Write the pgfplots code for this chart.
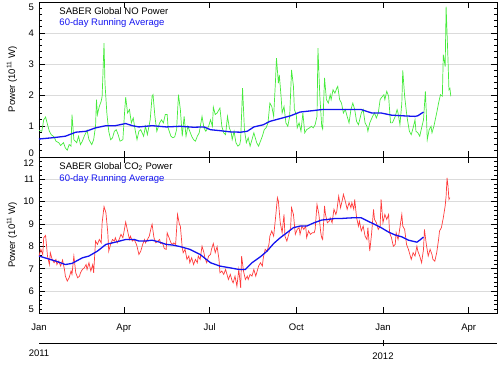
\documentclass[border=0pt]{standalone}
\usepackage{fontspec}
\setmainfont{Liberation Sans}
\usepackage{pgfplots}
\pgfplotsset{compat=1.18}
\definecolor{noGreen}{RGB}{70,235,60}
\definecolor{co2Red}{RGB}{255,60,60}
\definecolor{avgBlue}{RGB}{20,20,240}
\newcommand{\lblfont}{\fontsize{9.5}{11}\selectfont}
\pgfplotsset{
  panel/.style={
    width=458pt, scale only axis, xmin=0, xmax=486,
    xtick={0,90,181,273,365,456}, minor x tick num=5,
    minor y tick num=4,
    tick align=inside, major tick length=6pt, minor tick length=3pt,
    ymajorgrids, major grid style={black!14, line width=0.8pt},
    axis line style={line width=0.6pt}, tick style={black, line width=0.6pt},
    tick label style={font=\lblfont},
    yticklabel style={xshift=-1.5pt},
    ylabel={Power (10\textsuperscript{11} W)},
    every axis y label/.style={at={(axis description cs:-0.059,0.5)}, rotate=90, anchor=center, font=\lblfont},
  },
}
\begin{document}
\begin{tikzpicture}
\useasboundingbox (0,0) rectangle (500pt,364pt);
% ---------------- top panel ----------------
\begin{axis}[panel, at={(39pt,207pt)}, anchor=south west, height=155pt,
  ymin=0, ymax=5, ytick={0,1,2,3,4,5},
  yticklabels={\raisebox{4pt}[\height][\depth]{0},1,2,3,4,\raisebox{-5pt}[\height][\depth]{5}},
  xticklabels={}]
\addplot[noGreen, line width=0.7pt] coordinates {
(0,0.86) (3,0.83) (5,1.20) (7,1.29) (9,1.05) (11,0.83) (13,0.72) (16,0.65) (18,0.51) (21,0.46)
(23,0.37) (26,0.46) (28,0.29) (30,0.22) (32,0.40) (34,0.35) (35,1.37) (37,0.56) (40,0.46) (42,0.67)
(44,0.40) (46,0.51) (48,0.67) (51,0.86) (53,0.56) (56,0.40) (58,0.56) (60,0.99) (61,1.85) (62,1.37)
(64,1.63) (66,1.80) (67,1.96) (69,3.67) (70,2.38) (72,1.42) (74,0.83) (76,0.56) (78,0.62) (80,0.83)
(82,0.88) (84,0.72) (86,0.51) (89,0.56) (91,1.53) (92,1.93) (94,1.42) (96,1.53) (98,1.10) (100,1.26)
(102,0.88) (104,0.56) (106,0.83) (108,0.88) (111,0.67) (113,0.99) (115,0.72) (118,1.20) (120,1.96) (121,2.01)
(123,1.31) (125,0.83) (128,1.10) (130,1.20) (132,1.10) (134,1.37) (136,1.37) (137,0.94) (140,0.67) (142,0.62)
(144,0.65) (146,0.88) (148,2.01) (150,1.53) (152,0.67) (154,1.31) (156,0.67) (158,0.99) (160,0.83) (162,0.67)
(164,0.56) (166,0.51) (168,0.67) (170,0.78) (173,1.31) (175,0.94) (177,0.83) (180,0.99) (182,1.20) (184,0.99)
(185,1.61) (187,1.37) (189,1.42) (192,1.58) (194,0.99) (196,0.78) (198,0.72) (200,1.31) (202,0.94) (204,0.78)
(205,0.56) (207,0.83) (209,0.46) (211,0.35) (213,0.40) (214,0.56) (216,2.22) (218,0.88) (220,0.46) (222,0.62)
(224,0.35) (226,0.56) (228,0.78) (231,0.46) (233,0.35) (235,0.51) (237,0.67) (239,0.88) (241,0.94) (243,1.10)
(245,1.74) (247,1.63) (249,1.31) (251,2.49) (252,3.19) (254,2.38) (255,2.65) (257,1.90) (258,1.42) (260,1.63)
(262,1.10) (264,0.99) (266,1.31) (268,2.81) (270,2.28) (271,1.53) (273,1.37) (274,0.94) (276,1.10) (278,0.83)
(280,1.42) (282,0.78) (284,0.88) (287,0.94) (289,0.99) (291,0.94) (293,1.04) (295,1.31) (296,3.51) (298,1.96)
(300,0.99) (301,0.90) (303,2.55) (305,1.85) (307,1.74) (309,2.01) (310,1.85) (312,2.17) (314,2.06) (316,2.22)
(317,2.28) (319,1.85) (321,1.74) (323,1.42) (325,1.53) (327,1.31) (329,1.10) (331,1.53) (333,1.74) (335,1.53)
(337,1.15) (339,1.04) (342,1.42) (344,1.53) (346,1.10) (348,0.99) (349,0.83) (351,1.10) (354,1.31) (356,1.42)
(358,1.26) (360,1.42) (362,1.85) (363,1.90) (366,2.01) (367,1.85) (369,2.12) (371,1.96) (373,1.10) (375,1.10)
(378,1.31) (380,1.53) (381,1.42) (383,1.04) (385,1.74) (386,2.79) (388,1.96) (390,1.42) (391,1.20) (393,0.83)
(395,0.72) (397,0.94) (399,1.20) (400,0.83) (402,0.78) (404,0.67) (406,0.94) (408,1.20) (410,2.12) (411,1.42)
(412,0.56) (414,0.88) (416,0.99) (417,0.78) (419,0.99) (422,1.42) (424,1.74) (426,2.01) (428,1.96) (429,3.30)
(431,2.92) (432,4.85) (434,3.14) (435,2.17) (436,2.22) (437,1.96)
};
\addplot[avgBlue, line width=1.3pt] coordinates {
(0,0.58) (14,0.62) (28,0.67) (39,0.80) (50,0.83) (60,0.94) (71,1.01) (81,1.01) (92,1.08) (99,1.01)
(106,0.97) (120,1.01) (135,0.97) (150,0.99) (164,0.96) (175,0.97) (182,0.88) (192,0.85) (203,0.81) (214,0.80)
(221,0.83) (228,0.97) (238,1.04) (245,1.15) (256,1.24) (267,1.33) (277,1.45) (292,1.50) (300,1.53) (314,1.53)
(328,1.53) (342,1.53) (353,1.42) (363,1.42) (374,1.35) (385,1.33) (399,1.31) (402,1.33) (408,1.45)
};
\node[anchor=west, font=\lblfont, text=black] at (axis description cs:0.037,0.944) {SABER Global NO Power};
\node[anchor=west, font=\lblfont, text=avgBlue] at (axis description cs:0.037,0.867) {60-day Running Average};
\end{axis}
% ---------------- bottom panel ----------------
\begin{axis}[panel, at={(39pt,207pt)}, anchor=north west, height=156.5pt,
  ymin=5, ymax=12, ytick={5,6,7,8,9,10,11,12},
  yticklabels={\raisebox{4pt}[\height][\depth]{5},6,7,8,9,10,11,\raisebox{-6pt}[\height][\depth]{12}},
  xticklabels={Jan,Apr,Jul,Oct,Jan,Apr}, xticklabel style={yshift=-7pt}]
\addplot[co2Red, line width=0.7pt] coordinates {
(0,7.57) (2,7.87) (4,7.64) (5,8.39) (7,8.49) (9,7.57) (11,7.19) (12,7.72) (14,7.42) (16,7.27)
(18,7.42) (19,7.19) (21,7.34) (23,7.12) (25,7.39) (27,6.97) (28,6.67) (30,6.45) (32,6.60) (34,6.90)
(35,6.75) (37,7.57) (39,6.82) (41,6.60) (43,6.67) (44,6.82) (46,6.97) (48,7.04) (50,7.19) (51,6.97)
(53,7.27) (55,6.90) (57,7.19) (58,6.82) (60,8.24) (62,8.09) (64,8.31) (66,8.16) (67,9.06) (69,9.78)
(71,9.51) (73,8.61) (74,7.79) (76,8.09) (78,8.31) (80,8.24) (81,8.39) (83,8.16) (85,8.31) (87,8.54)
(89,8.39) (90,8.61) (92,9.09) (94,8.69) (96,8.31) (97,8.46) (99,8.24) (101,8.31) (103,8.13) (104,8.01)
(106,7.64) (108,7.79) (110,8.09) (112,8.31) (113,8.16) (115,8.31) (117,8.46) (119,8.84) (120,8.99) (122,8.39)
(124,8.16) (126,8.24) (128,8.31) (129,8.13) (131,8.16) (133,7.90) (135,7.87) (136,8.61) (138,8.39) (140,8.16)
(142,8.09) (143,8.16) (145,8.09) (147,9.43) (149,8.99) (150,8.91) (152,7.94) (153,7.72) (155,7.87) (157,7.42)
(159,7.57) (160,7.27) (162,7.49) (164,7.19) (166,7.42) (168,7.27) (169,7.57) (171,7.42) (173,8.01) (175,7.72)
(176,7.49) (178,7.27) (180,7.57) (182,7.64) (183,7.87) (185,8.13) (187,7.72) (189,7.99) (191,7.42) (192,6.82)
(194,6.90) (196,6.75) (198,6.97) (199,6.82) (201,6.52) (203,6.75) (205,6.45) (206,6.37) (208,6.67) (210,6.22)
(212,6.97) (214,6.15) (215,7.57) (217,6.90) (219,6.52) (221,6.67) (222,6.52) (224,6.75) (226,6.67) (228,6.97)
(230,6.67) (231,6.82) (233,7.12) (235,7.27) (237,7.12) (238,7.49) (240,7.87) (242,7.79) (244,8.09) (245,8.46)
(247,8.69) (249,8.46) (251,9.28) (253,10.18) (254,10.03) (256,9.06) (258,8.61) (260,9.43) (261,8.46) (263,8.24)
(265,8.54) (267,8.84) (268,9.73) (270,9.43) (272,8.54) (274,8.76) (276,8.84) (277,8.54) (279,8.91) (281,8.76)
(283,8.91) (284,8.39) (286,8.69) (288,8.54) (290,8.61) (292,8.61) (293,8.76) (295,9.88) (297,9.43) (299,8.61)
(300,8.39) (301,8.31) (303,9.81) (304,9.43) (306,9.06) (308,9.13) (309,9.28) (311,9.06) (313,9.66) (315,9.43)
(316,9.58) (318,10.25) (320,9.73) (322,10.10) (323,10.33) (325,10.03) (327,9.66) (329,9.96) (331,9.73) (332,9.96)
(334,9.66) (335,10.10) (337,9.28) (339,8.91) (340,9.13) (342,8.69) (344,8.91) (346,8.46) (348,8.31) (349,8.84)
(351,7.79) (353,8.61) (355,9.66) (356,9.21) (358,9.06) (360,8.76) (362,8.91) (363,10.10) (365,9.06) (367,9.43)
(369,9.21) (371,9.43) (372,8.61) (374,8.39) (376,8.01) (378,8.09) (379,8.61) (381,8.31) (383,8.84) (385,9.43)
(386,8.91) (388,8.76) (390,8.09) (392,7.87) (394,7.57) (395,7.42) (397,7.72) (399,7.57) (401,8.01) (402,7.79)
(404,7.57) (406,7.27) (408,7.87) (409,8.76) (411,8.09) (413,7.57) (415,7.87) (417,7.64) (418,7.42) (420,7.34)
(422,7.72) (424,8.31) (425,8.69) (427,8.84) (429,9.28) (431,9.81) (432,10.25) (433,11.07) (434,10.70) (435,10.10)
(436,10.18)
};
\addplot[avgBlue, line width=1.3pt] coordinates {
(0,7.57) (18,7.34) (28,7.19) (35,7.24) (46,7.49) (53,7.57) (62,7.79) (71,8.09) (81,8.19) (92,8.31)
(101,8.31) (106,8.24) (113,8.24) (120,8.28) (128,8.19) (135,8.09) (142,8.06) (150,7.99) (160,7.87) (171,7.64)
(182,7.27) (192,7.12) (203,7.04) (212,6.97) (219,6.97) (226,7.27) (235,7.54) (242,7.79) (249,8.13) (256,8.39)
(263,8.61) (270,8.84) (277,8.91) (284,8.91) (292,9.06) (300,9.18) (307,9.21) (314,9.25) (321,9.25) (328,9.27)
(333,9.28) (342,9.28) (349,9.13) (356,8.99) (363,8.84) (371,8.64) (378,8.51) (385,8.43) (392,8.28) (401,8.19)
(404,8.28) (408,8.42)
};
\node[anchor=west, font=\lblfont, text=black] at (axis description cs:0.037,0.938) {SABER Global CO\textsubscript{2} Power};
\node[anchor=west, font=\lblfont, text=avgBlue] at (axis description cs:0.037,0.861) {60-day Running Average};
\end{axis}
% ---------------- year axis ----------------
\begin{axis}[at={(39pt,21pt)}, anchor=south west, width=458pt, height=10pt, scale only axis,
  xmin=0, xmax=486, ymin=0, ymax=1, axis x line=bottom, axis y line=none,
  axis line style={-, line width=0.6pt}, tick style={black, line width=0.6pt},
  xtick={365}, xticklabels={2012}, extra x ticks={0}, extra x tick labels={2011},
  extra x tick style={major tick length=0pt},
  tick align=center, major tick length=6pt, minor x tick num=0,
  tick label style={font=\lblfont}, xticklabel style={yshift=-3pt}]
\addplot[draw=none] coordinates {(0,0)};
\end{axis}
\end{tikzpicture}
\end{document}
